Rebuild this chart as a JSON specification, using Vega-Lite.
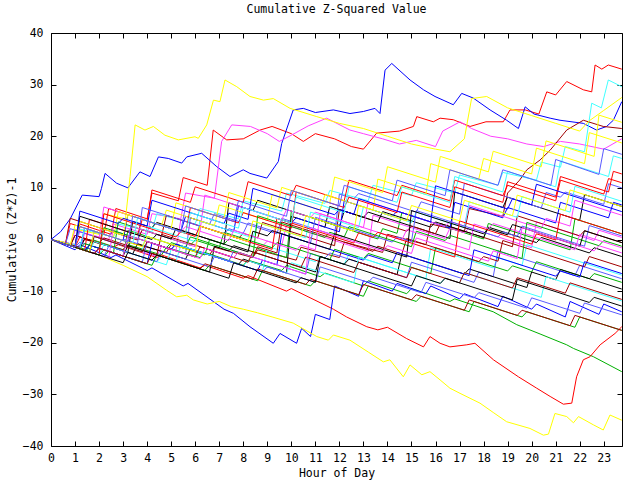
{
"$schema":"https://vega.github.io/schema/vega-lite/v6.json",
"width":571,"height":413,
"autosize":{"type":"none"},
"padding":{"left":51,"top":33,"right":18,"bottom":34},
"background":"white",
"title":{"text":"Cumulative Z-Squared Value","font":"DejaVu Sans Mono","fontSize":11.5,"fontWeight":"normal","color":"black","offset":12,"anchor":"middle"},
"config":{"view":{"stroke":null},"axis":{"labelFont":"DejaVu Sans Mono","titleFont":"DejaVu Sans Mono","labelFontSize":11.5,"titleFontSize":11.5,"titleFontWeight":"normal","labelColor":"black","titleColor":"black","domainColor":"black","tickColor":"black","grid":false,"domainWidth":1,"tickWidth":1}},
"resolve":{"axis":{"x":"independent","y":"independent"}},
"layer":[
{"data":{"values":[
{"s":1,"h":0,"v":0},{"s":1,"h":1,"v":-1},{"s":1,"h":1.2,"v":3},{"s":1,"h":2.5,"v":1},{"s":1,"h":2.7,"v":6},{"s":1,"h":4,"v":4},{"s":1,"h":4.2,"v":9},{"s":1,"h":5.3,"v":7.5},{"s":1,"h":5.5,"v":12},{"s":1,"h":6.5,"v":10.5},{"s":1,"h":6.75,"v":21.2},{"s":1,"h":7.31,"v":19.3},{"s":1,"h":8,"v":19.5},{"s":1,"h":8.7,"v":21.2},{"s":1,"h":9.2,"v":21.9},{"s":1,"h":10,"v":20.5},{"s":1,"h":10.5,"v":19},{"s":1,"h":11,"v":20.5},{"s":1,"h":11.8,"v":19.5},{"s":1,"h":12.5,"v":18},{"s":1,"h":13,"v":17.5},{"s":1,"h":13.55,"v":20.6},{"s":1,"h":14.5,"v":21},{"s":1,"h":15.08,"v":21.9},{"s":1,"h":15.22,"v":23.8},{"s":1,"h":15.91,"v":22.8},{"s":1,"h":16.19,"v":23.5},{"s":1,"h":16.74,"v":23.2},{"s":1,"h":17.44,"v":21.9},{"s":1,"h":18.1,"v":22.8},{"s":1,"h":18.82,"v":22.8},{"s":1,"h":19.1,"v":25.1},{"s":1,"h":19.73,"v":25.1},{"s":1,"h":20.3,"v":24.3},{"s":1,"h":20.63,"v":28.6},{"s":1,"h":21,"v":28},{"s":1,"h":21.46,"v":30.6},{"s":1,"h":22.15,"v":29},{"s":1,"h":22.5,"v":28.6},{"s":1,"h":22.64,"v":33.8},{"s":1,"h":22.92,"v":33},{"s":1,"h":23.19,"v":33.8},{"s":1,"h":23.75,"v":33},
{"s":2,"h":0,"v":0},{"s":2,"h":1.5,"v":-2},{"s":2,"h":1.7,"v":0},{"s":2,"h":3,"v":-2},{"s":2,"h":3.2,"v":-1},{"s":2,"h":4.6,"v":-3},{"s":2,"h":4.8,"v":-1.5},{"s":2,"h":6.2,"v":-3.5},{"s":2,"h":6.4,"v":-2.5},{"s":2,"h":8,"v":-5},{"s":2,"h":8.2,"v":-4},{"s":2,"h":9.6,"v":-6},{"s":2,"h":9.8,"v":-5},{"s":2,"h":11.2,"v":-7.2},{"s":2,"h":11.4,"v":-6.5},{"s":2,"h":13,"v":-9},{"s":2,"h":13.2,"v":-8},{"s":2,"h":14.8,"v":-10.5},{"s":2,"h":15,"v":-9.5},{"s":2,"h":16.6,"v":-12},{"s":2,"h":16.8,"v":-11.5},{"s":2,"h":18.4,"v":-14},{"s":2,"h":19.38,"v":-16.5},{"s":2,"h":20.35,"v":-18.3},{"s":2,"h":21.46,"v":-20.4},{"s":2,"h":21.74,"v":-21.1},{"s":2,"h":22.57,"v":-22.7},{"s":2,"h":23.75,"v":-25.6},
{"s":3,"h":0,"v":0},{"s":3,"h":0.4,"v":1.5},{"s":3,"h":0.8,"v":4},{"s":3,"h":1.3,"v":8.6},{"s":3,"h":2,"v":8.3},{"s":3,"h":2.1,"v":9.9},{"s":3,"h":2.25,"v":12.8},{"s":3,"h":2.73,"v":10.9},{"s":3,"h":3.2,"v":10},{"s":3,"h":3.7,"v":13.1},{"s":3,"h":4.12,"v":12.2},{"s":3,"h":4.47,"v":16},{"s":3,"h":4.88,"v":15.7},{"s":3,"h":5.44,"v":14.8},{"s":3,"h":5.65,"v":16},{"s":3,"h":6.27,"v":16.7},{"s":3,"h":6.9,"v":14.1},{"s":3,"h":7.45,"v":12.2},{"s":3,"h":8,"v":13.5},{"s":3,"h":8.28,"v":12.8},{"s":3,"h":8.98,"v":11.9},{"s":3,"h":9.46,"v":15.1},{"s":3,"h":9.6,"v":18.6},{"s":3,"h":10.08,"v":25.1},{"s":3,"h":10.5,"v":25.4},{"s":3,"h":11,"v":24.6},{"s":3,"h":11.75,"v":25.1},{"s":3,"h":12.44,"v":24.4},{"s":3,"h":13,"v":24.8},{"s":3,"h":13.48,"v":25.4},{"s":3,"h":13.69,"v":24.4},{"s":3,"h":13.9,"v":32.8},{"s":3,"h":14.18,"v":34.1},{"s":3,"h":14.94,"v":30.9},{"s":3,"h":15.5,"v":29},{"s":3,"h":15.98,"v":27.7},{"s":3,"h":16.6,"v":26.4},{"s":3,"h":16.74,"v":26.1},{"s":3,"h":17.09,"v":28.3},{"s":3,"h":17.57,"v":27.4},{"s":3,"h":18.27,"v":25.1},{"s":3,"h":18.96,"v":23.1},{"s":3,"h":19.45,"v":21.5},{"s":3,"h":19.73,"v":25.7},{"s":3,"h":20.1,"v":24.3},{"s":3,"h":20.77,"v":23.5},{"s":3,"h":21.18,"v":23.1},{"s":3,"h":22.15,"v":22.5},{"s":3,"h":22.7,"v":21.2},{"s":3,"h":23.12,"v":21.9},{"s":3,"h":23.4,"v":23.1},{"s":3,"h":23.75,"v":26.7},
{"s":4,"h":0,"v":0},{"s":4,"h":1,"v":-1},{"s":4,"h":1.2,"v":1.5},{"s":4,"h":2.4,"v":0},{"s":4,"h":2.6,"v":3},{"s":4,"h":4,"v":1},{"s":4,"h":4.2,"v":5},{"s":4,"h":5.4,"v":4},{"s":4,"h":5.6,"v":9},{"s":4,"h":6.8,"v":8},{"s":4,"h":7.1,"v":19},{"s":4,"h":7.52,"v":22.2},{"s":4,"h":8.3,"v":21.9},{"s":4,"h":9,"v":20.5},{"s":4,"h":9.5,"v":19},{"s":4,"h":10,"v":20.2},{"s":4,"h":10.7,"v":22},{"s":4,"h":11.47,"v":23.5},{"s":4,"h":12.44,"v":21.2},{"s":4,"h":13,"v":20.5},{"s":4,"h":13.8,"v":19.5},{"s":4,"h":14.5,"v":18.5},{"s":4,"h":15.2,"v":19.2},{"s":4,"h":16,"v":18},{"s":4,"h":16.3,"v":21},{"s":4,"h":17.02,"v":22.8},{"s":4,"h":17.5,"v":21.5},{"s":4,"h":18.3,"v":20},{"s":4,"h":19,"v":19.5},{"s":4,"h":19.8,"v":18.5},{"s":4,"h":20.5,"v":18},{"s":4,"h":21.2,"v":19},{"s":4,"h":22,"v":18.5},{"s":4,"h":23,"v":17.5},{"s":4,"h":23.75,"v":19.5},
{"s":5,"h":0,"v":0},{"s":5,"h":1,"v":-1},{"s":5,"h":1.2,"v":2},{"s":5,"h":2.6,"v":0.5},{"s":5,"h":2.8,"v":3},{"s":5,"h":4.2,"v":1.5},{"s":5,"h":4.4,"v":5},{"s":5,"h":6,"v":3},{"s":5,"h":6.2,"v":6},{"s":5,"h":7.8,"v":4},{"s":5,"h":8,"v":7.5},{"s":5,"h":9.6,"v":5.5},{"s":5,"h":9.8,"v":9},{"s":5,"h":11.4,"v":7},{"s":5,"h":11.6,"v":9.5},{"s":5,"h":13.2,"v":7.5},{"s":5,"h":13.4,"v":10.5},{"s":5,"h":15,"v":8.5},{"s":5,"h":15.2,"v":11},{"s":5,"h":16.8,"v":9},{"s":5,"h":17,"v":12.5},{"s":5,"h":18.6,"v":10.5},{"s":5,"h":18.8,"v":13},{"s":5,"h":20.2,"v":11.5},{"s":5,"h":20.4,"v":15},{"s":5,"h":21.2,"v":14},{"s":5,"h":21.4,"v":18},{"s":5,"h":22.2,"v":17},{"s":5,"h":22.5,"v":26.4},{"s":5,"h":22.9,"v":25.5},{"s":5,"h":23.19,"v":30.9},{"s":5,"h":23.75,"v":29.6},
{"s":6,"h":0,"v":0},{"s":6,"h":1.2,"v":-1.5},{"s":6,"h":1.4,"v":0},{"s":6,"h":3,"v":-2},{"s":6,"h":3.2,"v":-0.5},{"s":6,"h":4.8,"v":-2.5},{"s":6,"h":5,"v":-1},{"s":6,"h":6.6,"v":-3},{"s":6,"h":6.8,"v":-1.5},{"s":6,"h":8.4,"v":-3.5},{"s":6,"h":8.6,"v":-2},{"s":6,"h":10.2,"v":-4},{"s":6,"h":10.4,"v":-1.5},{"s":6,"h":12,"v":-3.5},{"s":6,"h":12.2,"v":-0.5},{"s":6,"h":13.8,"v":-2.5},{"s":6,"h":14,"v":1},{"s":6,"h":15.6,"v":-1},{"s":6,"h":15.8,"v":3},{"s":6,"h":17.2,"v":1.5},{"s":6,"h":17.4,"v":6},{"s":6,"h":18.8,"v":4.5},{"s":6,"h":19,"v":9},{"s":6,"h":19.5,"v":11.5},{"s":6,"h":19.8,"v":13.5},{"s":6,"h":20.35,"v":15.4},{"s":6,"h":20.77,"v":17.3},{"s":6,"h":21.46,"v":21.2},{"s":6,"h":22.15,"v":23.1},{"s":6,"h":22.98,"v":21.9},{"s":6,"h":23.75,"v":21.5},
{"s":7,"h":0,"v":0},{"s":7,"h":0.8,"v":-1},{"s":7,"h":1,"v":2},{"s":7,"h":2,"v":1},{"s":7,"h":2.2,"v":5},{"s":7,"h":3.1,"v":4},{"s":7,"h":3.29,"v":12.2},{"s":7,"h":3.5,"v":22.2},{"s":7,"h":3.91,"v":21.2},{"s":7,"h":4.26,"v":21.9},{"s":7,"h":4.74,"v":20.2},{"s":7,"h":5.3,"v":19.3},{"s":7,"h":5.99,"v":19.9},{"s":7,"h":6.13,"v":19.6},{"s":7,"h":6.48,"v":22.2},{"s":7,"h":6.76,"v":27},{"s":7,"h":7.03,"v":26.7},{"s":7,"h":7.24,"v":30.9},{"s":7,"h":7.73,"v":29.6},{"s":7,"h":8.28,"v":27.7},{"s":7,"h":8.84,"v":27},{"s":7,"h":9.25,"v":27.3},{"s":7,"h":9.95,"v":25.4},{"s":7,"h":11.06,"v":23.8},{"s":7,"h":12,"v":22.5},{"s":7,"h":13,"v":21.5},{"s":7,"h":14,"v":20},{"s":7,"h":15,"v":18.5},{"s":7,"h":16,"v":17.5},{"s":7,"h":16.6,"v":17},{"s":7,"h":17.2,"v":19.5},{"s":7,"h":17.5,"v":27.3},{"s":7,"h":18.13,"v":27.7},{"s":7,"h":19,"v":25.5},{"s":7,"h":20,"v":24},{"s":7,"h":21,"v":22.5},{"s":7,"h":22,"v":21},{"s":7,"h":22.4,"v":23},{"s":7,"h":23,"v":25},{"s":7,"h":23.75,"v":27.5},
{"s":8,"h":0,"v":0},{"s":8,"h":0.8,"v":-1.2},{"s":8,"h":1,"v":0.8},{"s":8,"h":3.2,"v":-2.5},{"s":8,"h":3.4,"v":3.5},{"s":8,"h":4.2,"v":2.3},{"s":8,"h":4.4,"v":3.3},{"s":8,"h":7.2,"v":-0.9},{"s":8,"h":7.4,"v":7.1},{"s":8,"h":8.4,"v":5.6},{"s":8,"h":8.6,"v":7.6},{"s":8,"h":12,"v":2.5},{"s":8,"h":12.2,"v":5.5},{"s":8,"h":13,"v":4.3},{"s":8,"h":13.2,"v":5.3},{"s":8,"h":16.6,"v":0.2},{"s":8,"h":16.8,"v":9.2},{"s":8,"h":18.8,"v":6.2},{"s":8,"h":19,"v":8.2},{"s":8,"h":22,"v":3.7},{"s":8,"h":22.2,"v":8.7},{"s":8,"h":23.75,"v":6.4},
{"s":9,"h":0,"v":0},{"s":9,"h":1.6,"v":-2.4},{"s":9,"h":1.8,"v":1.6},{"s":9,"h":2.4,"v":0.7},{"s":9,"h":2.6,"v":1.7},{"s":9,"h":5.6,"v":-2.8},{"s":9,"h":5.8,"v":4.2},{"s":9,"h":6.6,"v":3},{"s":9,"h":6.8,"v":5},{"s":9,"h":9.4,"v":1.1},{"s":9,"h":9.6,"v":4.1},{"s":9,"h":11.8,"v":0.8},{"s":9,"h":12,"v":8.8},{"s":9,"h":12.6,"v":7.9},{"s":9,"h":12.8,"v":8.9},{"s":9,"h":15.2,"v":5.3},{"s":9,"h":15.4,"v":7.3},{"s":9,"h":17,"v":4.9},{"s":9,"h":17.2,"v":10.9},{"s":9,"h":20.4,"v":6.1},{"s":9,"h":20.6,"v":9.1},{"s":9,"h":21.2,"v":8.2},{"s":9,"h":21.4,"v":9.2},{"s":9,"h":23,"v":6.8},{"s":9,"h":23.2,"v":10.8},{"s":9,"h":23.75,"v":10},
{"s":10,"h":0,"v":0},{"s":10,"h":1,"v":-1.5},{"s":10,"h":1.2,"v":0.5},{"s":10,"h":2.6,"v":-1.5},{"s":10,"h":2.8,"v":-1},{"s":10,"h":4.4,"v":-3.5},{"s":10,"h":4.6,"v":-3},{"s":10,"h":6.2,"v":-5.5},{"s":10,"h":6.4,"v":-5},{"s":10,"h":8,"v":-7.5},{"s":10,"h":8.2,"v":-7},{"s":10,"h":9.8,"v":-10},{"s":10,"h":10,"v":-9.5},{"s":10,"h":11.75,"v":-13.5},{"s":10,"h":12.3,"v":-15},{"s":10,"h":13.14,"v":-16.9},{"s":10,"h":13.6,"v":-17.5},{"s":10,"h":14,"v":-17},{"s":10,"h":14.8,"v":-19.2},{"s":10,"h":15.5,"v":-20.8},{"s":10,"h":15.77,"v":-18.8},{"s":10,"h":16.19,"v":-20.1},{"s":10,"h":16.6,"v":-20.8},{"s":10,"h":17.3,"v":-20.4},{"s":10,"h":17.64,"v":-20.1},{"s":10,"h":18.41,"v":-23.3},{"s":10,"h":19.45,"v":-26.6},{"s":10,"h":20.21,"v":-28.8},{"s":10,"h":20.77,"v":-30.4},{"s":10,"h":21.32,"v":-31.9},{"s":10,"h":21.67,"v":-31.7},{"s":10,"h":21.87,"v":-26.6},{"s":10,"h":22.15,"v":-23.3},{"s":10,"h":22.43,"v":-22.7},{"s":10,"h":22.85,"v":-20.4},{"s":10,"h":23.47,"v":-18.2},{"s":10,"h":23.75,"v":-16.9},
{"s":11,"h":0,"v":0},{"s":11,"h":2.2,"v":-3.3},{"s":11,"h":2.4,"v":-2.3},{"s":11,"h":3,"v":-3.2},{"s":11,"h":3.2,"v":1.8},{"s":11,"h":6.4,"v":-3},{"s":11,"h":6.6,"v":0},{"s":11,"h":7.2,"v":-0.9},{"s":11,"h":7.4,"v":0.1},{"s":11,"h":9.8,"v":-3.5},{"s":11,"h":10,"v":5.5},{"s":11,"h":13.6,"v":0.1},{"s":11,"h":13.8,"v":2.1},{"s":11,"h":14.4,"v":1.2},{"s":11,"h":14.6,"v":5.2},{"s":11,"h":18,"v":0.1},{"s":11,"h":18.2,"v":3.1},{"s":11,"h":21.6,"v":-2},{"s":11,"h":21.8,"v":4},{"s":11,"h":23.75,"v":1.1},
{"s":12,"h":0,"v":0},{"s":12,"h":1,"v":-2},{"s":12,"h":1.2,"v":-1},{"s":12,"h":2.5,"v":-3.5},{"s":12,"h":2.7,"v":-3},{"s":12,"h":4,"v":-6},{"s":12,"h":4.2,"v":-5.5},{"s":12,"h":5.5,"v":-9},{"s":12,"h":5.7,"v":-8.5},{"s":12,"h":6.75,"v":-12},{"s":12,"h":7.2,"v":-13.5},{"s":12,"h":7.59,"v":-14.3},{"s":12,"h":8.28,"v":-16.9},{"s":12,"h":9.25,"v":-20.1},{"s":12,"h":9.53,"v":-18.2},{"s":12,"h":10.22,"v":-20.1},{"s":12,"h":10.43,"v":-17.2},{"s":12,"h":10.8,"v":-18.8},{"s":12,"h":11,"v":-14.5},{"s":12,"h":11.6,"v":-15.5},{"s":12,"h":11.8,"v":-9},{"s":12,"h":12.8,"v":-11},{"s":12,"h":13,"v":-8},{"s":12,"h":14.2,"v":-10},{"s":12,"h":14.4,"v":-8.5},{"s":12,"h":15.6,"v":-10.5},{"s":12,"h":15.8,"v":-9},{"s":12,"h":17,"v":-11.5},{"s":12,"h":17.2,"v":-10.5},{"s":12,"h":18.6,"v":-13},{"s":12,"h":18.8,"v":-11},{"s":12,"h":20,"v":-13.5},{"s":12,"h":20.2,"v":-12.5},{"s":12,"h":21.4,"v":-15},{"s":12,"h":21.6,"v":-12},{"s":12,"h":22.8,"v":-14.5},{"s":12,"h":23,"v":-12.5},{"s":12,"h":23.75,"v":-14},
{"s":13,"h":0,"v":0},{"s":13,"h":1.2,"v":-1.8},{"s":13,"h":1.4,"v":1.2},{"s":13,"h":4.4,"v":-3.3},{"s":13,"h":4.6,"v":-1.3},{"s":13,"h":5.2,"v":-2.2},{"s":13,"h":5.4,"v":3.8},{"s":13,"h":8.8,"v":-1.3},{"s":13,"h":9,"v":-0.3},{"s":13,"h":9.6,"v":-1.2},{"s":13,"h":9.8,"v":2.8},{"s":13,"h":13.2,"v":-2.3},{"s":13,"h":13.4,"v":4.7},{"s":13,"h":16.4,"v":0.2},{"s":13,"h":16.6,"v":2.2},{"s":13,"h":17.2,"v":1.3},{"s":13,"h":17.4,"v":2.3},{"s":13,"h":20,"v":-1.6},{"s":13,"h":20.2,"v":3.4},{"s":13,"h":22.6,"v":-0.2},{"s":13,"h":22.8,"v":1.8},{"s":13,"h":23.75,"v":0.4},
{"s":14,"h":0,"v":0},{"s":14,"h":2,"v":-3},{"s":14,"h":2.2,"v":-1},{"s":14,"h":4.8,"v":-4.9},{"s":14,"h":5,"v":-1.9},{"s":14,"h":6,"v":-3.4},{"s":14,"h":6.2,"v":-2.4},{"s":14,"h":8.8,"v":-6.3},{"s":14,"h":9,"v":-1.3},{"s":14,"h":11,"v":-4.3},{"s":14,"h":11.2,"v":-3.3},{"s":14,"h":12.2,"v":-4.8},{"s":14,"h":12.4,"v":-2.8},{"s":14,"h":15.6,"v":-7.6},{"s":14,"h":15.8,"v":-1.6},{"s":14,"h":18.4,"v":-5.5},{"s":14,"h":18.6,"v":-3.5},{"s":14,"h":19.6,"v":-5},{"s":14,"h":19.8,"v":-1},{"s":14,"h":23.75,"v":-6.9},
{"s":15,"h":0,"v":0},{"s":15,"h":0.6,"v":-0.9},{"s":15,"h":0.8,"v":4.1},{"s":15,"h":3.6,"v":-0.1},{"s":15,"h":3.8,"v":1.9},{"s":15,"h":4.6,"v":0.7},{"s":15,"h":4.8,"v":4.7},{"s":15,"h":7.8,"v":0.2},{"s":15,"h":8,"v":1.2},{"s":15,"h":8.6,"v":0.3},{"s":15,"h":8.8,"v":3.3},{"s":15,"h":11.8,"v":-1.2},{"s":15,"h":12,"v":5.8},{"s":15,"h":14.8,"v":1.6},{"s":15,"h":15,"v":2.6},{"s":15,"h":16,"v":1.1},{"s":15,"h":16.2,"v":3.1},{"s":15,"h":19.2,"v":-1.4},{"s":15,"h":19.4,"v":4.6},{"s":15,"h":22,"v":0.7},{"s":15,"h":22.2,"v":1.7},{"s":15,"h":23.75,"v":-0.6},
{"s":16,"h":0,"v":0},{"s":16,"h":0.5,"v":-0.5},{"s":16,"h":1,"v":-1.5},{"s":16,"h":2,"v":-3},{"s":16,"h":3,"v":-5},{"s":16,"h":4,"v":-7.2},{"s":16,"h":4.8,"v":-9.8},{"s":16,"h":5.23,"v":-11.1},{"s":16,"h":5.65,"v":-10.8},{"s":16,"h":5.92,"v":-11.7},{"s":16,"h":6.5,"v":-12.5},{"s":16,"h":7,"v":-12},{"s":16,"h":7.5,"v":-13},{"s":16,"h":8,"v":-13.5},{"s":16,"h":8.6,"v":-14.2},{"s":16,"h":9.2,"v":-15},{"s":16,"h":10.08,"v":-16.2},{"s":16,"h":11.06,"v":-18.8},{"s":16,"h":11.54,"v":-19.5},{"s":16,"h":11.75,"v":-18.5},{"s":16,"h":12.44,"v":-19.5},{"s":16,"h":13.2,"v":-21.8},{"s":16,"h":13.83,"v":-23.7},{"s":16,"h":14.1,"v":-23.3},{"s":16,"h":14.66,"v":-26.6},{"s":16,"h":14.94,"v":-24.3},{"s":16,"h":15.43,"v":-26.2},{"s":16,"h":15.77,"v":-25.6},{"s":16,"h":16.19,"v":-27.2},{"s":16,"h":16.6,"v":-28.8},{"s":16,"h":17.02,"v":-29.8},{"s":16,"h":17.85,"v":-31.7},{"s":16,"h":18.4,"v":-33.5},{"s":16,"h":18.96,"v":-35.3},{"s":16,"h":19.93,"v":-36.6},{"s":16,"h":20.49,"v":-37.9},{"s":16,"h":20.7,"v":-37.7},{"s":16,"h":20.97,"v":-33.7},{"s":16,"h":21.46,"v":-34.3},{"s":16,"h":21.74,"v":-35.5},{"s":16,"h":21.95,"v":-34.3},{"s":16,"h":22.57,"v":-35.9},{"s":16,"h":22.98,"v":-36.9},{"s":16,"h":23.26,"v":-34},{"s":16,"h":23.75,"v":-35},
{"s":17,"h":0,"v":0},{"s":17,"h":1.2,"v":-1.8},{"s":17,"h":1.4,"v":0.2},{"s":17,"h":3.4,"v":-2.8},{"s":17,"h":3.6,"v":-0.8},{"s":17,"h":5.6,"v":-3.8},{"s":17,"h":5.8,"v":-1.8},{"s":17,"h":7.8,"v":-4.8},{"s":17,"h":8,"v":-3.8},{"s":17,"h":9.8,"v":-6.5},{"s":17,"h":10,"v":4.5},{"s":17,"h":11.4,"v":2.4},{"s":17,"h":11.6,"v":6.4},{"s":17,"h":13.6,"v":3.4},{"s":17,"h":13.8,"v":5.4},{"s":17,"h":15.8,"v":2.4},{"s":17,"h":16,"v":3.4},{"s":17,"h":18,"v":0.4},{"s":17,"h":18.2,"v":2.4},{"s":17,"h":20.2,"v":-0.6},{"s":17,"h":20.4,"v":0.4},{"s":17,"h":22.4,"v":-2.6},{"s":17,"h":22.6,"v":-1.6},{"s":17,"h":23.75,"v":-3.3},
{"s":18,"h":0,"v":0},{"s":18,"h":1,"v":-1.5},{"s":18,"h":1.2,"v":-0.5},{"s":18,"h":3.8,"v":-4.4},{"s":18,"h":4,"v":-0.4},{"s":18,"h":5,"v":-1.9},{"s":18,"h":5.2,"v":-0.9},{"s":18,"h":7.4,"v":-4.2},{"s":18,"h":7.6,"v":-2.2},{"s":18,"h":10.6,"v":-6.7},{"s":18,"h":10.8,"v":-2.7},{"s":18,"h":11.4,"v":-3.6},{"s":18,"h":11.6,"v":-2.6},{"s":18,"h":14.8,"v":-7.4},{"s":18,"h":15,"v":-4.4},{"s":18,"h":17.6,"v":-8.3},{"s":18,"h":17.8,"v":-6.3},{"s":18,"h":18.4,"v":-7.2},{"s":18,"h":18.6,"v":-2.2},{"s":18,"h":21.8,"v":-7},{"s":18,"h":22,"v":-5},{"s":18,"h":23.75,"v":-7.6},
{"s":19,"h":0,"v":0},{"s":19,"h":0.6,"v":-0.9},{"s":19,"h":0.8,"v":3.1},{"s":19,"h":2.2,"v":1},{"s":19,"h":2.4,"v":6},{"s":19,"h":4,"v":3.6},{"s":19,"h":4.2,"v":9.6},{"s":19,"h":5.8,"v":7.2},{"s":19,"h":6,"v":10.2},{"s":19,"h":8,"v":7.2},{"s":19,"h":8.2,"v":11.2},{"s":19,"h":10,"v":8.5},{"s":19,"h":10.2,"v":10.5},{"s":19,"h":12.2,"v":7.5},{"s":19,"h":12.4,"v":11.5},{"s":19,"h":14.4,"v":8.5},{"s":19,"h":14.6,"v":10.5},{"s":19,"h":16.6,"v":7.5},{"s":19,"h":16.8,"v":11.5},{"s":19,"h":18.8,"v":8.5},{"s":19,"h":19,"v":10.5},{"s":19,"h":21,"v":7.5},{"s":19,"h":21.2,"v":11.5},{"s":19,"h":23,"v":8.8},{"s":19,"h":23.2,"v":11.8},{"s":19,"h":23.75,"v":11},
{"s":20,"h":0,"v":0},{"s":20,"h":1.4,"v":-2.1},{"s":20,"h":1.6,"v":-1.1},{"s":20,"h":2.6,"v":-2.6},{"s":20,"h":2.8,"v":3.4},{"s":20,"h":5.8,"v":-1.1},{"s":20,"h":6,"v":-0.1},{"s":20,"h":7,"v":-1.6},{"s":20,"h":7.2,"v":1.4},{"s":20,"h":9.2,"v":-1.6},{"s":20,"h":9.4,"v":-0.6},{"s":20,"h":11.6,"v":-3.9},{"s":20,"h":11.8,"v":-1.9},{"s":20,"h":13,"v":-3.7},{"s":20,"h":13.2,"v":-2.7},{"s":20,"h":15.8,"v":-6.6},{"s":20,"h":16,"v":-1.6},{"s":20,"h":19,"v":-6.1},{"s":20,"h":19.2,"v":-5.1},{"s":20,"h":20,"v":-6.3},{"s":20,"h":20.2,"v":-4.3},{"s":20,"h":22.4,"v":-7.6},{"s":20,"h":22.6,"v":-6.6},{"s":20,"h":23.75,"v":-8.3},
{"s":21,"h":0,"v":0},{"s":21,"h":1.2,"v":-1.8},{"s":21,"h":1.4,"v":2.2},{"s":21,"h":3,"v":-0.2},{"s":21,"h":3.2,"v":4.8},{"s":21,"h":5.4,"v":1.5},{"s":21,"h":5.6,"v":4.5},{"s":21,"h":7.6,"v":1.5},{"s":21,"h":7.8,"v":6.5},{"s":21,"h":10,"v":3.2},{"s":21,"h":10.2,"v":4.2},{"s":21,"h":12,"v":1.5},{"s":21,"h":12.2,"v":7.5},{"s":21,"h":14.2,"v":4.5},{"s":21,"h":14.4,"v":5.5},{"s":21,"h":16.6,"v":2.2},{"s":21,"h":16.8,"v":7.2},{"s":21,"h":18.8,"v":4.2},{"s":21,"h":19,"v":6.2},{"s":21,"h":21,"v":3.2},{"s":21,"h":21.2,"v":7.2},{"s":21,"h":23.2,"v":4.2},{"s":21,"h":23.4,"v":7.2},{"s":21,"h":23.75,"v":6.7},
{"s":22,"h":0,"v":0},{"s":22,"h":0.8,"v":-1.2},{"s":22,"h":1,"v":1.8},{"s":22,"h":2,"v":0.3},{"s":22,"h":2.2,"v":6.3},{"s":22,"h":5.4,"v":1.5},{"s":22,"h":5.6,"v":2.5},{"s":22,"h":6.2,"v":1.6},{"s":22,"h":6.4,"v":8.6},{"s":22,"h":9.6,"v":3.8},{"s":22,"h":9.8,"v":5.8},{"s":22,"h":10.8,"v":4.3},{"s":22,"h":11,"v":5.3},{"s":22,"h":13,"v":2.3},{"s":22,"h":13.2,"v":7.3},{"s":22,"h":16.4,"v":2.5},{"s":22,"h":16.6,"v":3.5},{"s":22,"h":17.2,"v":2.6},{"s":22,"h":17.4,"v":6.6},{"s":22,"h":20.4,"v":2.1},{"s":22,"h":20.6,"v":4.1},{"s":22,"h":21.6,"v":2.6},{"s":22,"h":21.8,"v":7.6},{"s":22,"h":23.75,"v":4.7},
{"s":23,"h":0,"v":0},{"s":23,"h":1.6,"v":-2.4},{"s":23,"h":1.8,"v":0.6},{"s":23,"h":3.8,"v":-2.4},{"s":23,"h":4,"v":2.6},{"s":23,"h":6,"v":-0.4},{"s":23,"h":6.2,"v":3.6},{"s":23,"h":8.4,"v":0.3},{"s":23,"h":8.6,"v":3.3},{"s":23,"h":10.6,"v":0.3},{"s":23,"h":10.8,"v":5.3},{"s":23,"h":12.8,"v":2.3},{"s":23,"h":13,"v":6.3},{"s":23,"h":15,"v":3.3},{"s":23,"h":15.2,"v":5.3},{"s":23,"h":17.2,"v":2.3},{"s":23,"h":17.4,"v":7.3},{"s":23,"h":19.4,"v":4.3},{"s":23,"h":19.6,"v":8.3},{"s":23,"h":21.6,"v":5.3},{"s":23,"h":21.8,"v":10.3},{"s":23,"h":23.75,"v":7.4},
{"s":24,"h":0,"v":0},{"s":24,"h":0.8,"v":-1.2},{"s":24,"h":1,"v":0.8},{"s":24,"h":2,"v":-0.7},{"s":24,"h":2.2,"v":0.3},{"s":24,"h":4.4,"v":-3},{"s":24,"h":4.6,"v":1},{"s":24,"h":7.6,"v":-3.5},{"s":24,"h":7.8,"v":-2.5},{"s":24,"h":8.4,"v":-3.4},{"s":24,"h":8.6,"v":-1.4},{"s":24,"h":9.4,"v":-2.6},{"s":24,"h":9.6,"v":3.4},{"s":24,"h":13.4,"v":-2.3},{"s":24,"h":13.6,"v":-1.3},{"s":24,"h":14.6,"v":-2.8},{"s":24,"h":14.8,"v":0.2},{"s":24,"h":17.8,"v":-4.3},{"s":24,"h":18,"v":-3.3},{"s":24,"h":18.6,"v":-4.2},{"s":24,"h":18.8,"v":-0.2},{"s":24,"h":22.2,"v":-5.3},{"s":24,"h":22.4,"v":-3.3},{"s":24,"h":23.75,"v":-5.3},
{"s":25,"h":0,"v":0},{"s":25,"h":0.8,"v":-1.2},{"s":25,"h":1,"v":2.8},{"s":25,"h":2.6,"v":0.4},{"s":25,"h":2.8,"v":5.4},{"s":25,"h":4.6,"v":2.7},{"s":25,"h":4.8,"v":5.7},{"s":25,"h":6.8,"v":2.7},{"s":25,"h":7,"v":6.7},{"s":25,"h":9,"v":3.7},{"s":25,"h":9.2,"v":8.7},{"s":25,"h":11.2,"v":5.7},{"s":25,"h":11.4,"v":8.7},{"s":25,"h":13.4,"v":5.7},{"s":25,"h":13.6,"v":11.7},{"s":25,"h":15.6,"v":8.7},{"s":25,"h":15.8,"v":14.7},{"s":25,"h":17.8,"v":11.7},{"s":25,"h":18,"v":15.7},{"s":25,"h":20,"v":12.7},{"s":25,"h":20.2,"v":17.7},{"s":25,"h":22.2,"v":14.7},{"s":25,"h":22.4,"v":20.7},{"s":25,"h":23.75,"v":18.7},
{"s":26,"h":0,"v":0},{"s":26,"h":1.8,"v":-2.7},{"s":26,"h":2,"v":-1.7},{"s":26,"h":3,"v":-3.2},{"s":26,"h":3.2,"v":-1.2},{"s":26,"h":6.6,"v":-6.3},{"s":26,"h":6.8,"v":-1.3},{"s":26,"h":7.4,"v":-2.2},{"s":26,"h":7.6,"v":-1.2},{"s":26,"h":11,"v":-6.3},{"s":26,"h":11.2,"v":-3.3},{"s":26,"h":12.2,"v":-4.8},{"s":26,"h":12.4,"v":-3.8},{"s":26,"h":14.4,"v":-6.8},{"s":26,"h":14.6,"v":-2.8},{"s":26,"h":17.2,"v":-6.7},{"s":26,"h":17.4,"v":-5.7},{"s":26,"h":19.8,"v":-9.3},{"s":26,"h":20,"v":-6.3},{"s":26,"h":21,"v":-7.8},{"s":26,"h":21.2,"v":-5.8},{"s":26,"h":23.75,"v":-9.6},
{"s":27,"h":0,"v":0},{"s":27,"h":0.6,"v":-0.9},{"s":27,"h":0.8,"v":2.1},{"s":27,"h":2.8,"v":-0.9},{"s":27,"h":3,"v":0.1},{"s":27,"h":3.6,"v":-0.8},{"s":27,"h":3.8,"v":6.2},{"s":27,"h":7.2,"v":1.1},{"s":27,"h":7.4,"v":2.1},{"s":27,"h":8,"v":1.2},{"s":27,"h":8.2,"v":3.2},{"s":27,"h":10.8,"v":-0.7},{"s":27,"h":11,"v":4.3},{"s":27,"h":14.2,"v":-0.5},{"s":27,"h":14.4,"v":0.5},{"s":27,"h":15,"v":-0.4},{"s":27,"h":15.2,"v":5.6},{"s":27,"h":18.6,"v":0.5},{"s":27,"h":18.8,"v":1.5},{"s":27,"h":19.4,"v":0.6},{"s":27,"h":19.6,"v":2.6},{"s":27,"h":22.2,"v":-1.3},{"s":27,"h":22.4,"v":2.7},{"s":27,"h":23.75,"v":0.7},
{"s":28,"h":0,"v":0},{"s":28,"h":1.4,"v":-2.1},{"s":28,"h":1.6,"v":3.9},{"s":28,"h":3.6,"v":0.9},{"s":28,"h":3.8,"v":3.9},{"s":28,"h":5.6,"v":1.2},{"s":28,"h":5.8,"v":6.2},{"s":28,"h":7.8,"v":3.2},{"s":28,"h":8,"v":5.2},{"s":28,"h":10,"v":2.2},{"s":28,"h":10.2,"v":9.2},{"s":28,"h":12.2,"v":6.2},{"s":28,"h":12.4,"v":8.2},{"s":28,"h":14.4,"v":5.2},{"s":28,"h":14.6,"v":9.2},{"s":28,"h":16.6,"v":6.2},{"s":28,"h":16.8,"v":10.2},{"s":28,"h":18.8,"v":7.2},{"s":28,"h":19,"v":11.2},{"s":28,"h":21,"v":8.2},{"s":28,"h":21.2,"v":12.2},{"s":28,"h":23.2,"v":9.2},{"s":28,"h":23.4,"v":13.2},{"s":28,"h":23.75,"v":12.7},
{"s":29,"h":0,"v":0},{"s":29,"h":1.2,"v":-1.8},{"s":29,"h":1.4,"v":-0.8},{"s":29,"h":2,"v":-1.7},{"s":29,"h":2.2,"v":2.3},{"s":29,"h":4.8,"v":-1.6},{"s":29,"h":5,"v":-0.6},{"s":29,"h":5.6,"v":-1.5},{"s":29,"h":5.8,"v":0.5},{"s":29,"h":8.4,"v":-3.4},{"s":29,"h":8.6,"v":4.6},{"s":29,"h":11.4,"v":0.4},{"s":29,"h":11.6,"v":1.4},{"s":29,"h":12.2,"v":0.5},{"s":29,"h":12.4,"v":2.5},{"s":29,"h":15,"v":-1.4},{"s":29,"h":15.2,"v":1.6},{"s":29,"h":16.4,"v":-0.2},{"s":29,"h":16.6,"v":0.8},{"s":29,"h":19.6,"v":-3.7},{"s":29,"h":19.8,"v":3.3},{"s":29,"h":22.8,"v":-1.2},{"s":29,"h":23,"v":-0.2},{"s":29,"h":23.75,"v":-1.3},
{"s":30,"h":0,"v":0},{"s":30,"h":1.4,"v":-2.1},{"s":30,"h":1.6,"v":-1.1},{"s":30,"h":4,"v":-4.7},{"s":30,"h":4.2,"v":-0.7},{"s":30,"h":5,"v":-1.9},{"s":30,"h":5.2,"v":-0.9},{"s":30,"h":8.6,"v":-6},{"s":30,"h":8.8,"v":-4},{"s":30,"h":9.4,"v":-4.9},{"s":30,"h":9.6,"v":1.1},{"s":30,"h":13,"v":-4},{"s":30,"h":13.2,"v":-3},{"s":30,"h":14.2,"v":-4.5},{"s":30,"h":14.4,"v":-2.5},{"s":30,"h":17.4,"v":-7},{"s":30,"h":17.6,"v":-2},{"s":30,"h":21,"v":-7.1},{"s":30,"h":21.2,"v":-6.1},{"s":30,"h":22,"v":-7.3},{"s":30,"h":22.2,"v":-4.3},{"s":30,"h":23.75,"v":-6.6},
{"s":31,"h":0,"v":0},{"s":31,"h":2.4,"v":-3.6},{"s":31,"h":2.6,"v":2.4},{"s":31,"h":3.2,"v":1.5},{"s":31,"h":3.4,"v":2.5},{"s":31,"h":6,"v":-1.4},{"s":31,"h":6.2,"v":1.6},{"s":31,"h":7.4,"v":-0.2},{"s":31,"h":7.6,"v":1.8},{"s":31,"h":10.2,"v":-2.1},{"s":31,"h":10.4,"v":-1.1},{"s":31,"h":11,"v":-2},{"s":31,"h":11.2,"v":5},{"s":31,"h":14.6,"v":-0.1},{"s":31,"h":14.8,"v":1.9},{"s":31,"h":17.4,"v":-2},{"s":31,"h":17.6,"v":3},{"s":31,"h":18.2,"v":2.1},{"s":31,"h":18.4,"v":3.1},{"s":31,"h":21.8,"v":-2},{"s":31,"h":22,"v":1},{"s":31,"h":23.75,"v":-1.6},
{"s":32,"h":0,"v":0},{"s":32,"h":1.6,"v":-2.4},{"s":32,"h":1.8,"v":-0.4},{"s":32,"h":4.4,"v":-4.3},{"s":32,"h":4.6,"v":-3.3},{"s":32,"h":5.2,"v":-4.2},{"s":32,"h":5.4,"v":-1.2},{"s":32,"h":8,"v":-5.1},{"s":32,"h":8.2,"v":-4.1},{"s":32,"h":9.8,"v":-6.5},{"s":32,"h":10,"v":-4.5},{"s":32,"h":12.6,"v":-8.4},{"s":32,"h":12.8,"v":-3.4},{"s":32,"h":16.2,"v":-8.5},{"s":32,"h":16.4,"v":-7.5},{"s":32,"h":17,"v":-8.4},{"s":32,"h":17.2,"v":-6.4},{"s":32,"h":20.4,"v":-11.2},{"s":32,"h":20.6,"v":-7.2},{"s":32,"h":23.75,"v":-11.9},
{"s":33,"h":0,"v":0},{"s":33,"h":1.6,"v":-2.4},{"s":33,"h":1.8,"v":0.6},{"s":33,"h":3.8,"v":-2.4},{"s":33,"h":4,"v":-0.4},{"s":33,"h":6,"v":-3.4},{"s":33,"h":6.2,"v":-1.4},{"s":33,"h":8.2,"v":-4.4},{"s":33,"h":8.4,"v":-2.4},{"s":33,"h":10.4,"v":-5.4},{"s":33,"h":10.6,"v":-3.4},{"s":33,"h":12.6,"v":-6.4},{"s":33,"h":12.8,"v":-4.4},{"s":33,"h":14.8,"v":-7.4},{"s":33,"h":15,"v":-5.4},{"s":33,"h":17,"v":-8.4},{"s":33,"h":17.2,"v":-6.4},{"s":33,"h":19.2,"v":-9.4},{"s":33,"h":19.4,"v":-7.4},{"s":33,"h":21.4,"v":-10.4},{"s":33,"h":21.6,"v":-8.4},{"s":33,"h":23.75,"v":-11.6},
{"s":34,"h":0,"v":0},{"s":34,"h":1,"v":-1.5},{"s":34,"h":1.2,"v":3.5},{"s":34,"h":3,"v":0.8},{"s":34,"h":3.2,"v":4.8},{"s":34,"h":5,"v":2.1},{"s":34,"h":5.2,"v":7.1},{"s":34,"h":7.2,"v":4.1},{"s":34,"h":7.4,"v":9.1},{"s":34,"h":9.4,"v":6.1},{"s":34,"h":9.6,"v":10.1},{"s":34,"h":11.6,"v":7.1},{"s":34,"h":11.8,"v":12.1},{"s":34,"h":13.8,"v":9.1},{"s":34,"h":14,"v":14.1},{"s":34,"h":16,"v":11.1},{"s":34,"h":16.2,"v":16.1},{"s":34,"h":18.2,"v":13.1},{"s":34,"h":18.4,"v":17.1},{"s":34,"h":20.4,"v":14.1},{"s":34,"h":20.6,"v":19.1},{"s":34,"h":22.6,"v":16.1},{"s":34,"h":22.8,"v":24.1},{"s":34,"h":23.75,"v":22.7},
{"s":35,"h":0,"v":0},{"s":35,"h":1,"v":-1.5},{"s":35,"h":1.2,"v":4.5},{"s":35,"h":4.2,"v":0},{"s":35,"h":4.4,"v":1},{"s":35,"h":5,"v":0.1},{"s":35,"h":5.2,"v":2.1},{"s":35,"h":8.2,"v":-2.4},{"s":35,"h":8.4,"v":1.6},{"s":35,"h":9,"v":0.7},{"s":35,"h":9.2,"v":1.7},{"s":35,"h":11.6,"v":-1.9},{"s":35,"h":11.8,"v":1.1},{"s":35,"h":14.8,"v":-3.4},{"s":35,"h":15,"v":5.6},{"s":35,"h":18,"v":1.1},{"s":35,"h":18.2,"v":2.1},{"s":35,"h":19,"v":0.9},{"s":35,"h":19.2,"v":2.9},{"s":35,"h":22,"v":-1.3},{"s":35,"h":22.2,"v":1.7},{"s":35,"h":23.75,"v":-0.6},
{"s":36,"h":0,"v":0},{"s":36,"h":2.2,"v":-3.3},{"s":36,"h":2.4,"v":-1.3},{"s":36,"h":4.4,"v":-4.3},{"s":36,"h":4.6,"v":-2.3},{"s":36,"h":6.6,"v":-5.3},{"s":36,"h":6.8,"v":-3.3},{"s":36,"h":8.8,"v":-6.3},{"s":36,"h":9,"v":-5.3},{"s":36,"h":11,"v":-8.3},{"s":36,"h":11.2,"v":-5.3},{"s":36,"h":13.2,"v":-8.3},{"s":36,"h":13.4,"v":-7.3},{"s":36,"h":15.4,"v":-10.3},{"s":36,"h":15.6,"v":-8.3},{"s":36,"h":17.6,"v":-11.3},{"s":36,"h":17.8,"v":-10.3},{"s":36,"h":19.8,"v":-13.3},{"s":36,"h":20,"v":-11.3},{"s":36,"h":22,"v":-14.3},{"s":36,"h":22.2,"v":-12.3},{"s":36,"h":23.75,"v":-14.6},
{"s":37,"h":0,"v":0},{"s":37,"h":2,"v":-3},{"s":37,"h":2.2,"v":5},{"s":37,"h":5.2,"v":0.5},{"s":37,"h":5.4,"v":1.5},{"s":37,"h":6,"v":0.6},{"s":37,"h":6.2,"v":2.6},{"s":37,"h":9.2,"v":-1.9},{"s":37,"h":9.4,"v":4.1},{"s":37,"h":12.6,"v":-0.7},{"s":37,"h":12.8,"v":1.3},{"s":37,"h":13.4,"v":0.4},{"s":37,"h":13.6,"v":1.4},{"s":37,"h":16.8,"v":-3.4},{"s":37,"h":17,"v":3.6},{"s":37,"h":20,"v":-0.9},{"s":37,"h":20.2,"v":1.1},{"s":37,"h":21,"v":-0.1},{"s":37,"h":21.2,"v":4.9},{"s":37,"h":23.75,"v":1.1},
{"s":38,"h":0,"v":0},{"s":38,"h":2,"v":-3},{"s":38,"h":2.2,"v":-2},{"s":38,"h":4.2,"v":-5},{"s":38,"h":4.4,"v":-3},{"s":38,"h":6.4,"v":-6},{"s":38,"h":6.6,"v":-5},{"s":38,"h":8.6,"v":-8},{"s":38,"h":8.8,"v":-6},{"s":38,"h":10.8,"v":-9},{"s":38,"h":11,"v":-8},{"s":38,"h":13,"v":-11},{"s":38,"h":13.2,"v":-9},{"s":38,"h":15.2,"v":-12},{"s":38,"h":15.4,"v":-11},{"s":38,"h":17.4,"v":-14},{"s":38,"h":17.6,"v":-12},{"s":38,"h":19.6,"v":-15},{"s":38,"h":19.8,"v":-14},{"s":38,"h":21.8,"v":-17},{"s":38,"h":22,"v":-15},{"s":38,"h":23.75,"v":-17.6},
{"s":39,"h":0,"v":0},{"s":39,"h":1,"v":-1.5},{"s":39,"h":1.2,"v":5.5},{"s":39,"h":2.8,"v":3.1},{"s":39,"h":3,"v":4.1},{"s":39,"h":4,"v":2.6},{"s":39,"h":4.2,"v":7.6},{"s":39,"h":7.2,"v":3.1},{"s":39,"h":7.4,"v":5.1},{"s":39,"h":8.2,"v":3.9},{"s":39,"h":8.4,"v":9.9},{"s":39,"h":11.8,"v":4.8},{"s":39,"h":12,"v":5.8},{"s":39,"h":12.6,"v":4.9},{"s":39,"h":12.8,"v":7.9},{"s":39,"h":15.8,"v":3.4},{"s":39,"h":16,"v":10.4},{"s":39,"h":19,"v":5.9},{"s":39,"h":19.2,"v":7.9},{"s":39,"h":20,"v":6.7},{"s":39,"h":20.2,"v":10.7},{"s":39,"h":23.75,"v":5.4},
{"s":40,"h":0,"v":0},{"s":40,"h":1.8,"v":-2.7},{"s":40,"h":2,"v":-1.7},{"s":40,"h":3,"v":-3.2},{"s":40,"h":3.2,"v":0.8},{"s":40,"h":6.2,"v":-3.7},{"s":40,"h":6.4,"v":-1.7},{"s":40,"h":7.6,"v":-3.5},{"s":40,"h":7.8,"v":-2.5},{"s":40,"h":10.6,"v":-6.7},{"s":40,"h":10.8,"v":2.3},{"s":40,"h":13.8,"v":-2.2},{"s":40,"h":14,"v":-1.2},{"s":40,"h":15,"v":-2.7},{"s":40,"h":15.2,"v":0.3},{"s":40,"h":18.2,"v":-4.2},{"s":40,"h":18.4,"v":-2.2},{"s":40,"h":19.4,"v":-3.7},{"s":40,"h":19.6,"v":2.3},{"s":40,"h":22.6,"v":-2.2},{"s":40,"h":22.8,"v":-1.2},{"s":40,"h":23.75,"v":-2.6},
{"s":41,"h":0,"v":0},{"s":41,"h":1.2,"v":-1.8},{"s":41,"h":1.4,"v":2.2},{"s":41,"h":3.4,"v":-0.8},{"s":41,"h":3.6,"v":4.2},{"s":41,"h":5.6,"v":1.2},{"s":41,"h":5.8,"v":5.2},{"s":41,"h":7.8,"v":2.2},{"s":41,"h":8,"v":6.2},{"s":41,"h":10,"v":3.2},{"s":41,"h":10.2,"v":8.2},{"s":41,"h":12.2,"v":5.2},{"s":41,"h":12.4,"v":10.2},{"s":41,"h":14.4,"v":7.2},{"s":41,"h":14.6,"v":10.2},{"s":41,"h":16.6,"v":7.2},{"s":41,"h":16.8,"v":12.2},{"s":41,"h":18.8,"v":9.2},{"s":41,"h":19,"v":13.2},{"s":41,"h":21,"v":10.2},{"s":41,"h":21.2,"v":15.2},{"s":41,"h":23.2,"v":12.2},{"s":41,"h":23.4,"v":16.2},{"s":41,"h":23.75,"v":15.7},
{"s":42,"h":0,"v":0},{"s":42,"h":1.8,"v":-2.7},{"s":42,"h":2,"v":-1.7},{"s":42,"h":4,"v":-4.7},{"s":42,"h":4.2,"v":-2.7},{"s":42,"h":6.2,"v":-5.7},{"s":42,"h":6.4,"v":-4.7},{"s":42,"h":8.4,"v":-7.7},{"s":42,"h":8.6,"v":-5.7},{"s":42,"h":10.6,"v":-8.7},{"s":42,"h":10.8,"v":-7.7},{"s":42,"h":12.8,"v":-10.7},{"s":42,"h":13,"v":-8.7},{"s":42,"h":15,"v":-11.7},{"s":42,"h":15.2,"v":-10.7},{"s":42,"h":17.2,"v":-13.7},{"s":42,"h":17.4,"v":-11.7},{"s":42,"h":19.4,"v":-14.7},{"s":42,"h":19.6,"v":-13.7},{"s":42,"h":21.6,"v":-16.7},{"s":42,"h":21.8,"v":-14.7},{"s":42,"h":23.75,"v":-17.6},
{"s":43,"h":0,"v":0},{"s":43,"h":1.6,"v":-2.4},{"s":43,"h":1.8,"v":1.6},{"s":43,"h":3.8,"v":-1.4},{"s":43,"h":4,"v":0.6},{"s":43,"h":6,"v":-2.4},{"s":43,"h":6.2,"v":2.6},{"s":43,"h":8.2,"v":-0.4},{"s":43,"h":8.4,"v":3.6},{"s":43,"h":10.4,"v":0.6},{"s":43,"h":10.6,"v":4.6},{"s":43,"h":12.6,"v":1.6},{"s":43,"h":12.8,"v":6.6},{"s":43,"h":14.8,"v":3.6},{"s":43,"h":15,"v":6.6},{"s":43,"h":17,"v":3.6},{"s":43,"h":17.2,"v":7.6},{"s":43,"h":19.2,"v":4.6},{"s":43,"h":19.4,"v":8.6},{"s":43,"h":21.4,"v":5.6},{"s":43,"h":21.6,"v":9.6},{"s":43,"h":23.6,"v":6.6},{"s":43,"h":23.75,"v":6.4},
{"s":44,"h":0,"v":0},{"s":44,"h":3,"v":-4.5},{"s":44,"h":3.2,"v":-2.5},{"s":44,"h":4.2,"v":-4},{"s":44,"h":4.4,"v":-3},{"s":44,"h":7.4,"v":-7.5},{"s":44,"h":7.6,"v":-4.5},{"s":44,"h":10.2,"v":-8.4},{"s":44,"h":10.4,"v":-7.4},{"s":44,"h":11,"v":-8.3},{"s":44,"h":11.2,"v":-3.3},{"s":44,"h":15,"v":-9},{"s":44,"h":15.2,"v":-7},{"s":44,"h":16.2,"v":-8.5},{"s":44,"h":16.4,"v":-7.5},{"s":44,"h":19.2,"v":-11.7},{"s":44,"h":19.4,"v":-7.7},{"s":44,"h":22.4,"v":-12.2},{"s":44,"h":22.6,"v":-11.2},{"s":44,"h":23.75,"v":-12.9},
{"s":45,"h":0,"v":0},{"s":45,"h":1,"v":-1.5},{"s":45,"h":1.2,"v":2.5},{"s":45,"h":3.2,"v":-0.5},{"s":45,"h":3.4,"v":4.5},{"s":45,"h":5.4,"v":1.5},{"s":45,"h":5.6,"v":6.5},{"s":45,"h":7.6,"v":3.5},{"s":45,"h":7.8,"v":7.5},{"s":45,"h":9.8,"v":4.5},{"s":45,"h":10,"v":9.5},{"s":45,"h":12,"v":6.5},{"s":45,"h":12.2,"v":10.5},{"s":45,"h":14.2,"v":7.5},{"s":45,"h":14.4,"v":11.5},{"s":45,"h":16.4,"v":8.5},{"s":45,"h":16.6,"v":13.5},{"s":45,"h":18.6,"v":10.5},{"s":45,"h":18.8,"v":13.5},{"s":45,"h":20.8,"v":10.5},{"s":45,"h":21,"v":15.5},{"s":45,"h":22.8,"v":12.6},{"s":45,"h":23,"v":17.6},{"s":45,"h":23.75,"v":16.5}
]},
"mark":{"type":"line","strokeWidth":1,"clip":true},
"encoding":{
"x":{"field":"h","type":"quantitative","scale":{"domain":[0,23.76],"nice":false,"zero":false},"axis":{"orient":"bottom","values":[0,1,2,3,4,5,6,7,8,9,10,11,12,13,14,15,16,17,18,19,20,21,22,23],"tickSize":-5,"labelPadding":11,"labelFlush":false,"labelOverlap":false,"title":"Hour of Day","titlePadding":4}},
"y":{"field":"v","type":"quantitative","scale":{"domain":[-40,40],"nice":false,"zero":false},"axis":{"orient":"left","values":[-40,-30,-20,-10,0,10,20,30,40],"tickSize":-5,"labelPadding":13,"labelFlush":false,"labelOverlap":false,"title":"Cumulative (Z*Z)-1","titlePadding":5}},
"color":{"field":"s","type":"nominal","scale":{"range":["#ff0000","#00b000","#0000ff","#ff40ff","#40ffff","#a00000","#ffff00","#000000","#5a5aff"]},"legend":null}
}},
{"data":{"values":[{"h":0,"v":0}]},
"mark":{"type":"point","opacity":0},
"encoding":{
"x":{"field":"h","type":"quantitative","axis":{"orient":"top","values":[0,1,2,3,4,5,6,7,8,9,10,11,12,13,14,15,16,17,18,19,20,21,22,23],"tickSize":-5,"labels":false,"title":null}},
"y":{"field":"v","type":"quantitative","axis":{"orient":"right","values":[-40,-30,-20,-10,0,10,20,30,40],"tickSize":-5,"labels":false,"title":null}}
}}
]
}
